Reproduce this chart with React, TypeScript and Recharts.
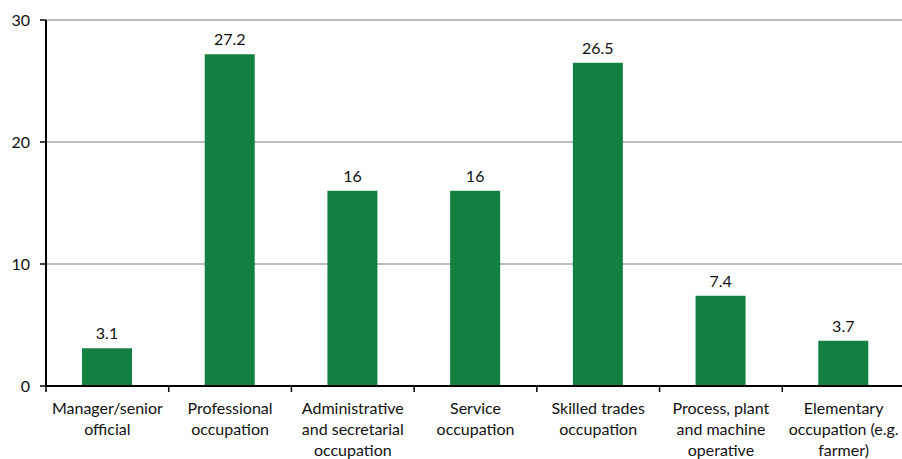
import { BarChart, Bar, XAxis, YAxis, CartesianGrid, LabelList } from 'recharts'

const categories = [
  'Manager/senior official',
  'Professional occupation',
  'Administrative and secretarial occupation',
  'Service occupation',
  'Skilled trades occupation',
  'Process, plant and machine operative',
  'Elementary occupation (e.g. farmer)',
]

// how each category label wraps under the axis
const labelLines = [
  ['Manager/senior', 'official'],
  ['Professional', 'occupation'],
  ['Administrative', 'and secretarial', 'occupation'],
  ['Service', 'occupation'],
  ['Skilled trades', 'occupation'],
  ['Process, plant', 'and machine', 'operative'],
  ['Elementary', 'occupation (e.g.', 'farmer)'],
]

const percentages = [3.1, 27.2, 16, 16, 26.5, 7.4, 3.7]
const yTicks = [0, 10, 20, 30]

const data = categories.map((name, i) => ({ name, value: percentages[i], idx: i }))

const CHART_W = 905
const CHART_H = 459
const LEFT = 46
const BAND = (CHART_W - LEFT) / categories.length
const FONT = 'Lato, "Open Sans", sans-serif'

function CategoryTick(props: any) {
  const { x, y, index } = props
  const lines = labelLines[index] || []
  const left = x - BAND / 2
  return (
    <g>
      <line x1={left} y1={y - 8} x2={left} y2={y - 2} stroke="#000" strokeWidth={1.5} />
      {index === categories.length - 1 && (
        <line x1={left + BAND} y1={y - 8} x2={left + BAND} y2={y - 2} stroke="#000" strokeWidth={1.5} />
      )}
      <text x={x} y={y} textAnchor="middle" fontSize={16} fill="#111" fontFamily={FONT}>
        {lines.map((l, i) => (
          <tspan key={i} x={x} dy={i === 0 ? 20 : 21}>
            {l}
          </tspan>
        ))}
      </text>
    </g>
  )
}

export default function App() {
  return (
    <div style={{ position: 'absolute', left: 0, top: 0, width: 902, height: 459, overflow: 'hidden', background: '#fff' }}>
      <BarChart
        width={CHART_W}
        height={CHART_H}
        data={data}
        margin={{ top: 20, right: 0, bottom: 0, left: 0 }}
        barCategoryGap={0}
      >
        <CartesianGrid vertical={false} stroke="#a6a6a6" strokeWidth={1.5} />
        <XAxis
          dataKey="name"
          height={73}
          interval={0}
          tickLine={false}
          axisLine={{ stroke: '#000', strokeWidth: 2 }}
          tick={<CategoryTick />}
        />
        <YAxis
          width={LEFT}
          domain={[0, 30]}
          ticks={yTicks}
          tickSize={6}
          tickMargin={10}
          axisLine={{ stroke: '#000', strokeWidth: 2 }}
          tickLine={{ stroke: '#000', strokeWidth: 1.5 }}
          tick={{ fontSize: 16, fill: '#111', fontFamily: FONT }}
        />
        <Bar dataKey="value" fill="#118040" barSize={50} isAnimationActive={false}>
          <LabelList
            dataKey="value"
            position="top"
            offset={9}
            style={{ fontSize: 16, fill: '#111', fontFamily: FONT }}
          />
        </Bar>
      </BarChart>
    </div>
  )
}
